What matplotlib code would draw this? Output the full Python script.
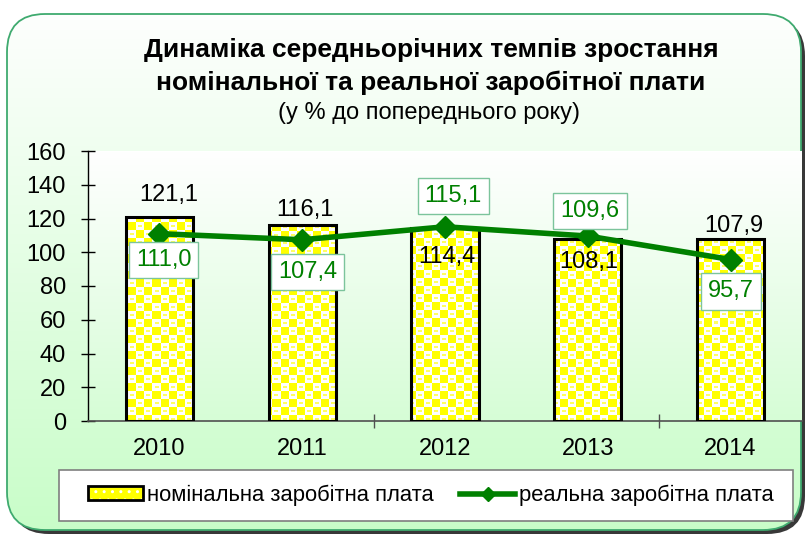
import numpy as np
import matplotlib
matplotlib.use('Agg')
import matplotlib.pyplot as plt
from matplotlib.patches import FancyBboxPatch, Rectangle, Patch
from matplotlib.lines import Line2D
from matplotlib.legend_handler import HandlerTuple
from matplotlib.colors import to_rgb
from matplotlib import font_manager as fm

# ---------------- data ----------------
years = ['2010', '2011', '2012', '2013', '2014']
nominal = [121.1, 116.1, 114.4, 108.1, 107.9]
real = [111.0, 107.4, 115.1, 109.6, 95.7]
nominal_labels = ['121,1', '116,1', '114,4', '108,1', '107,9']
real_labels = ['111,0', '107,4', '115,1', '109,6', '95,7']
yticks = [0, 20, 40, 60, 80, 100, 120, 140, 160]
title_lines = ['Динаміка середньорічних темпів зростання',
               'номінальної та реальної заробітної плати']
subtitle = '(у % до попереднього року)'
legend_labels = ['номінальна заробітна плата', 'реальна заробітна плата']

# label offsets (points) - layout only
nom_offsets = [(6.5, 15.5), (2, 11), (1, -21), (0.5, -17), (2, 9.5)]
real_offsets = [(3, -19), (4, -23), (6, 22), (1.5, 18), (0.5, -23)]

plt.rcParams['font.family'] = ['Liberation Sans', 'DejaVu Sans']

# find a non-italic bold face explicitly
bold_path = None
for f in fm.fontManager.ttflist:
    if f.name == 'Liberation Sans' and f.style == 'normal' and f.weight in (700, 'bold'):
        bold_path = f.fname
        break
if bold_path:
    title_fp = fm.FontProperties(fname=bold_path, size=19)
else:
    title_fp = fm.FontProperties(family='Liberation Sans', weight='bold',
                                 style='normal', size=19)

W, H = 805, 536
fig = plt.figure(figsize=(W / 100, H / 100), dpi=100)
fig.patch.set_facecolor('white')

# ---------------- background ----------------
bg = fig.add_axes([0, 0, 1, 1])
bg.set_xlim(0, W)
bg.set_ylim(H, 0)
bg.axis('off')

fx0, fy0, fw, fh = 7, 14, 794, 516
shadow = FancyBboxPatch((fx0 + 4, fy0 + 4), fw, fh,
                        boxstyle='round,pad=0,rounding_size=38',
                        fc='#383838', ec='none', zorder=0)
bg.add_patch(shadow)
frame = FancyBboxPatch((fx0, fy0), fw, fh,
                       boxstyle='round,pad=0,rounding_size=38',
                       fc='none', ec='#3faa6f', lw=1.3, zorder=2)
bg.add_patch(frame)
top_c = np.array(to_rgb('#ffffff'))
bot_c = np.array(to_rgb('#c8fdc8'))
t = np.linspace(0, 1, H)[:, None, None]
grad = top_c * (1 - t) + bot_c * t
grad = np.repeat(grad, 2, axis=1)
im = bg.imshow(grad, extent=[0, W, H, 0], aspect='auto', zorder=1,
               interpolation='bilinear')
clipbox = FancyBboxPatch((fx0, fy0), fw, fh,
                         boxstyle='round,pad=0,rounding_size=38',
                         fc='none', ec='none', transform=bg.transData)
im.set_clip_path(clipbox)
bg.set_xlim(0, W)
bg.set_ylim(H, 0)

# legend box
bg.add_patch(Rectangle((59, 470), 734, 51, fc='white', ec='#7f7f7f',
                       lw=1.2, zorder=3))

# ---------------- main axes ----------------
ax_l, ax_r, ax_t, ax_b = 88, 802, 151, 421
ax = fig.add_axes([ax_l / W, (H - ax_b) / H, (ax_r - ax_l) / W, (ax_b - ax_t) / H])
ax.patch.set_alpha(0)

pa_top = np.array(to_rgb('#ffffff'))
pa_bot = np.array(to_rgb('#d6fdd6'))
tt = np.linspace(0, 1, 200)[:, None, None]
pgrad = np.repeat(pa_top * (1 - tt) + pa_bot * tt, 2, axis=1)
ax.imshow(pgrad, extent=[0, 1, 0, 1], transform=ax.transAxes, aspect='auto',
          zorder=0, interpolation='bilinear')

x = np.arange(len(years))
bars = ax.bar(x, nominal, width=0.47, color='none', edgecolor='black',
              linewidth=2.2, zorder=3)

# bar fill pattern (yellow/white checker with pale dots)
ph, pw = ax_b - ax_t, ax_r - ax_l
yy, xx = np.mgrid[0:ph, 0:pw]
cell = 8
chk = ((xx // cell + yy // cell) % 2).astype(bool)
pat = np.empty((ph, pw, 3))
pat[:] = to_rgb('#ffff00')
pat[chk] = 1.0
cx = (xx % cell) - 3.5
cy = (yy % cell) - 3.5
dot = (cx ** 2 / 6 + cy ** 2 / 2 <= 1) & chk
pat[dot] = to_rgb('#ffff60')
for b in bars:
    pim = ax.imshow(pat, extent=[0, 1, 0, 1], transform=ax.transAxes,
                    aspect='auto', zorder=2, interpolation='nearest')
    pim.set_clip_path(b)

ax.plot(x, real, color='#008000', lw=4, marker='D', ms=11, zorder=5)

for xi, v, lab, off in zip(x, nominal, nominal_labels, nom_offsets):
    ax.annotate(lab, (xi, v), xytext=off, textcoords='offset points',
                ha='center', va='center', fontsize=17, color='black', zorder=6)
for xi, v, lab, off in zip(x, real, real_labels, real_offsets):
    ax.annotate(lab, (xi, v), xytext=off, textcoords='offset points',
                ha='center', va='center', fontsize=17, color='#008000', zorder=7,
                bbox=dict(boxstyle='square,pad=0.3', fc='white', ec='#7cc49c', lw=1))

ax.set_xlim(-0.5, len(years) - 0.5)
ax.set_ylim(0, 160)
ax.set_yticks(yticks)
ax.set_yticklabels([str(v) for v in yticks])
ax.set_xticks(x)
ax.set_xticklabels(years)
ax.set_xticks([1.5, 3.5], minor=True)
for s in ['top', 'right']:
    ax.spines[s].set_visible(False)
ax.spines['left'].set_color('black')
ax.spines['left'].set_linewidth(1)
ax.spines['bottom'].set_color('#505050')
ax.spines['bottom'].set_linewidth(1.2)
ax.tick_params(axis='y', direction='inout', length=10, width=1, pad=11,
               labelsize=17, colors='black')
ax.tick_params(axis='x', which='major', length=0, pad=12, labelsize=17)
ax.tick_params(axis='x', which='minor', direction='inout', length=10,
               width=1, color='#505050')

# ---------------- titles ----------------
fig.text(431 / W, 1 - 50 / H, title_lines[0], ha='center', va='center',
         fontproperties=title_fp)
fig.text(431 / W, 1 - 83 / H, title_lines[1], ha='center', va='center',
         fontproperties=title_fp)
fig.text(429 / W, 1 - 113 / H, subtitle, ha='center', va='center', fontsize=17)

# ---------------- legend ----------------
h_fill = Patch(facecolor='#ffff00', edgecolor='white', hatch='..', lw=0)
h_out = Patch(facecolor='none', edgecolor='black', lw=2)
h_line = Line2D([], [], color='#008000', lw=4, marker='D', ms=7)
leg = fig.legend([(h_fill, h_out), h_line], legend_labels,
                 handler_map={tuple: HandlerTuple(ndivide=1, pad=0)},
                 loc='center', bbox_to_anchor=(431 / W, 1 - 495.5 / H),
                 ncol=2, frameon=False, fontsize=15.8, handlelength=2.5,
                 handleheight=0.6, handletextpad=0.2, columnspacing=1.2)

fig.savefig('out.png', dpi=100, facecolor='white')
